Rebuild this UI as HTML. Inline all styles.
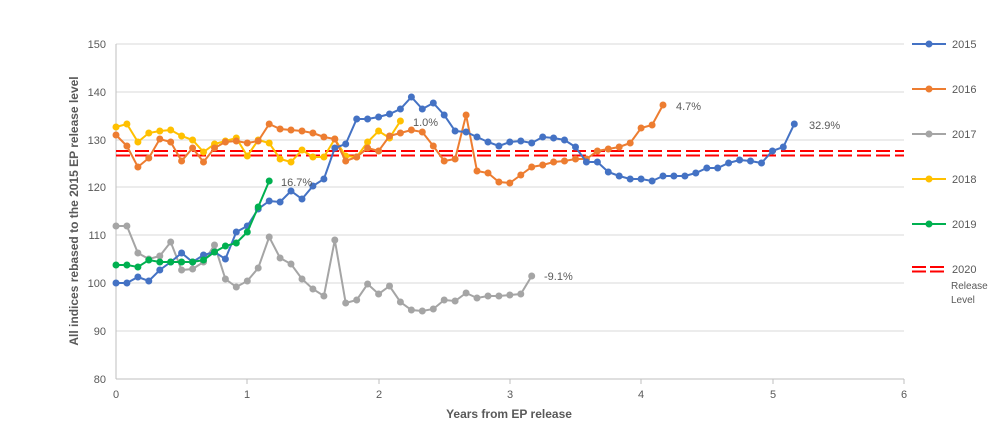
<!DOCTYPE html>
<html><head><meta charset="utf-8"><style>
body{margin:0;background:#fff;}
svg{display:block;font-family:"Liberation Sans",sans-serif;}
</style></head><body>
<svg id="c" width="1000" height="428" viewBox="0 0 1000 428" xmlns="http://www.w3.org/2000/svg">
<g stroke="#d9d9d9" stroke-width="1">
<line x1="116" x2="904" y1="44" y2="44"/><line x1="116" x2="904" y1="92" y2="92"/>
<line x1="116" x2="904" y1="140" y2="140"/><line x1="116" x2="904" y1="187" y2="187"/>
<line x1="116" x2="904" y1="235" y2="235"/><line x1="116" x2="904" y1="283" y2="283"/>
<line x1="116" x2="904" y1="331" y2="331"/>
</g>
<line x1="116" x2="904" y1="379" y2="379" stroke="#bfbfbf"/>
<line x1="116" x2="116" y1="44" y2="379" stroke="#bfbfbf"/>
<g stroke="#bfbfbf"><line x1="247" x2="247" y1="379" y2="384"/><line x1="379" x2="379" y1="379" y2="384"/><line x1="510" x2="510" y1="379" y2="384"/><line x1="641" x2="641" y1="379" y2="384"/><line x1="773" x2="773" y1="379" y2="384"/><line x1="904" x2="904" y1="379" y2="384"/></g>
<g font-size="11" fill="#595959" text-anchor="end">
<text x="106" y="48">150</text><text x="106" y="96">140</text><text x="106" y="144">130</text><text x="106" y="191">120</text><text x="106" y="239">110</text><text x="106" y="287">100</text><text x="106" y="335">90</text><text x="106" y="383">80</text>
</g>
<g font-size="11" fill="#595959" text-anchor="middle">
<text x="116" y="398">0</text><text x="247" y="398">1</text><text x="379" y="398">2</text><text x="510" y="398">3</text><text x="641" y="398">4</text><text x="773" y="398">5</text><text x="904" y="398">6</text>
</g>
<text x="509" y="418" font-size="12" font-weight="bold" fill="#595959" text-anchor="middle">Years from EP release</text>
<text transform="translate(78,211) rotate(-90)" font-size="12" font-weight="bold" fill="#595959" text-anchor="middle">All indices rebased to the 2015 EP release level</text>
<g stroke="#ff0000" stroke-width="2" stroke-dasharray="14,5">
<line x1="116" x2="904" y1="151" y2="151"/><line x1="116" x2="904" y1="155.5" y2="155.5"/>
</g>
<g id="series"></g>
<g font-size="11" fill="#595959">
<text x="281" y="186">16.7%</text><text x="413" y="126">1.0%</text><text x="676" y="110">4.7%</text><text x="809" y="129">32.9%</text><text x="544" y="280">-9.1%</text>
</g>
<g font-size="11" fill="#595959">
<line x1="912" x2="946" y1="44" y2="44" stroke="#4472c4" stroke-width="2"/><circle cx="929" cy="44" r="3.5" fill="#4472c4"/><text x="952" y="48">2015</text>
<line x1="912" x2="946" y1="89" y2="89" stroke="#ed7d31" stroke-width="2"/><circle cx="929" cy="89" r="3.5" fill="#ed7d31"/><text x="952" y="93">2016</text>
<line x1="912" x2="946" y1="134" y2="134" stroke="#a5a5a5" stroke-width="2"/><circle cx="929" cy="134" r="3.5" fill="#a5a5a5"/><text x="952" y="138">2017</text>
<line x1="912" x2="946" y1="179" y2="179" stroke="#ffc000" stroke-width="2"/><circle cx="929" cy="179" r="3.5" fill="#ffc000"/><text x="952" y="183">2018</text>
<line x1="912" x2="946" y1="224" y2="224" stroke="#00b050" stroke-width="2"/><circle cx="929" cy="224" r="3.5" fill="#00b050"/><text x="952" y="228">2019</text>
<g stroke="#ff0000" stroke-width="2" stroke-dasharray="14,4"><line x1="912" x2="946" y1="267" y2="267"/><line x1="912" x2="946" y1="271.5" y2="271.5"/></g>
<text x="952" y="273">2020</text><text x="951" y="289" font-size="10">Release</text><text x="951" y="303" font-size="10">Level</text>
</g>
</svg>
<script>
var S=[
["#a5a5a5",[226,226,253,259,256,242,270,269,262,245,279,287,281,268,237,258,264,279,289,296,240,303,300,284,294,286,302,310,311,309,300,301,293,298,296,296,295,294,276]],
["#ffc000",[127,124,142,133,131,130,136,140,152,144,141,138,156,140,143,159,162,150,157,157,139,156,157,142,131,138,121]],
["#ed7d31",[135,146,167,158,139,142,161,148,162,148,142,141,143,141,124,129,130,131,133,137,139,161,157,148,151,136,133,130,132,146,161,159,115,171,173,182,183,175,167,165,162,161,159,159,151,149,147,143,128,125,105]],
["#4472c4",[283,283,277,281,270,262,253,262,255,252,259,232,226,209,201,202,191,199,186,179,148,144,119,119,117,114,109,97,109,103,115,131,132,137,142,146,142,141,143,137,138,140,147,162,162,172,176,179,179,181,176,176,176,173,168,168,163,160,161,163,151,147,124]],
["#00b050",[265,265,267,260,262,262,262,262,260,252,246,243,232,207,181]]
];
var g=document.getElementById('series'),ns='http://www.w3.org/2000/svg',h='';
S.forEach(function(s){var pts=s[1].map(function(y,i){return (116+i*10.94).toFixed(1)+','+y;});
h+='<polyline fill="none" stroke="'+s[0]+'" stroke-width="2" points="'+pts.join(' ')+'"/>';
pts.forEach(function(p){var a=p.split(',');h+='<circle cx="'+a[0]+'" cy="'+a[1]+'" r="3.5" fill="'+s[0]+'"/>';});});
g.innerHTML=h;
</script>
</body></html>
